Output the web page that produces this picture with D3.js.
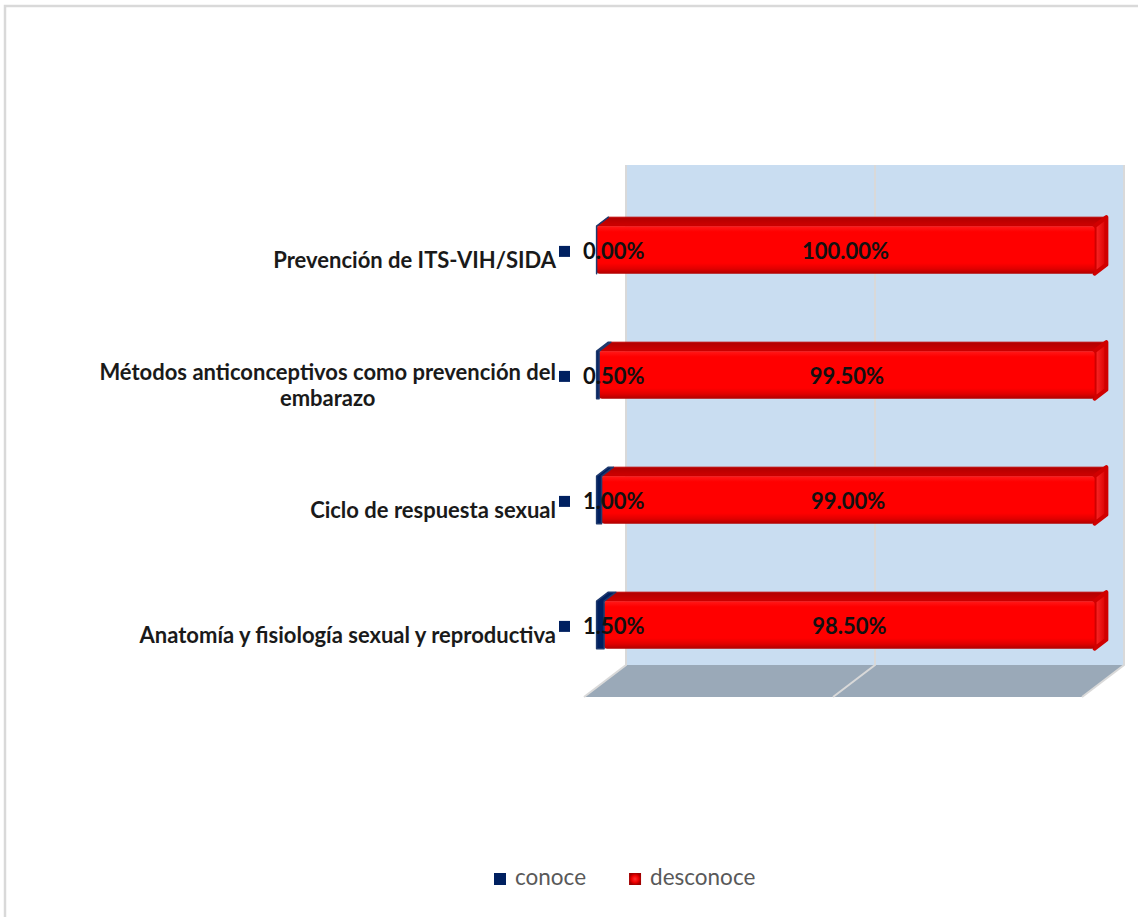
<!DOCTYPE html>
<html><head><meta charset="utf-8">
<script src="https://cdn.jsdelivr.net/npm/d3@7"></script>
<style>html,body{margin:0;padding:0;background:#fff;overflow:hidden}</style>
</head><body>
<svg id="c" width="1138" height="917"></svg>
<script>
const categories = ["Prevención de ITS-VIH/SIDA", "Métodos anticonceptivos como prevención del embarazo", "Ciclo de respuesta sexual", "Anatomía y fisiología sexual y reproductiva"];
const categoryLines = [["Prevención de ITS-VIH/SIDA"], ["Métodos anticonceptivos como prevención del", "embarazo"], ["Ciclo de respuesta sexual"], ["Anatomía y fisiología sexual y reproductiva"]];
const conoce = [0.00, 0.50, 1.00, 1.50];
const desconoce = [100.00, 99.50, 99.00, 98.50];
const seriesNames = ["conoce", "desconoce"];
const gridTicks = [0, 50, 100];

const svg = d3.select("#c");
const W = 1138, H = 917;
const FONT = "Lato, 'Open Sans', sans-serif";

// 3D projection: front plane scales + depth offset
const depthX = 42, depthY = 32;
const x = d3.scaleLinear().domain([0, 100]).range([584, 1082]);
const y = d3.scaleBand().domain(categories).range([197, 697]).paddingInner(0.62).paddingOuter(0.31);
const P = (v, yy, z) => [x(v) + z * depthX, yy - z * depthY];
const zFront = 0.30, zBack = 0.58;

const defs = svg.append("defs");
const gFront = defs.append("linearGradient").attr("id", "redFront").attr("x1", 0).attr("y1", 0).attr("x2", 0).attr("y2", 1);
[[0, "#ff1a1a"], [0.12, "#ff0000"], [0.78, "#ff0000"], [0.9, "#e00000"], [1, "#b00000"]].forEach(s => gFront.append("stop").attr("offset", s[0]).attr("stop-color", s[1]));
const gTop = defs.append("linearGradient").attr("id", "redTop").attr("x1", 0).attr("y1", 0).attr("x2", 0).attr("y2", 1);
[[0, "#b00000"], [1, "#d00000"]].forEach(s => gTop.append("stop").attr("offset", s[0]).attr("stop-color", s[1]));
const gSide = defs.append("linearGradient").attr("id", "redSide").attr("x1", 0).attr("y1", 0).attr("x2", 1).attr("y2", 0);
[[0, "#ff2a2a"], [1, "#d80000"]].forEach(s => gSide.append("stop").attr("offset", s[0]).attr("stop-color", s[1]));
const gLeg = defs.append("radialGradient").attr("id", "redLeg");
[[0, "#ff3030"], [0.6, "#ee0000"], [1, "#a00000"]].forEach(s => gLeg.append("stop").attr("offset", s[0]).attr("stop-color", s[1]));

// chart border
svg.append("path").attr("d", `M5,${H + 5} L5,6 L${W + 5},6`).attr("fill", "none").attr("stroke", "#d9d9d9").attr("stroke-width", 2.5);

// back wall
const yTopPlane = y.range()[0], yBotPlane = y.range()[1];
const wall = [P(0, yTopPlane, 1), P(100, yTopPlane, 1), P(100, yBotPlane, 1), P(0, yBotPlane, 1)];
svg.append("polygon").attr("points", wall.map(p => p.join(",")).join(" ")).attr("fill", "#c9ddf1");
// floor
const floor = [P(0, yBotPlane, 0), P(100, yBotPlane, 0), P(100, yBotPlane, 1), P(0, yBotPlane, 1)];
svg.append("polygon").attr("points", floor.map(p => p.join(",")).join(" ")).attr("fill", "#9aa9b8");
// gridlines
gridTicks.forEach(t => {
  const pts = [P(t, yTopPlane, 1), P(t, yBotPlane, 1), P(t, yBotPlane, 0)];
  svg.append("polyline").attr("points", pts.map(p => p.join(",")).join(" ")).attr("fill", "none").attr("stroke", "#d9d9d9").attr("stroke-width", 2);
});

// bars
const poly = pts => pts.map(p => p.join(",")).join(" ");
categories.forEach((c, i) => {
  const y0 = y(c), y1 = y(c) + y.bandwidth();
  const g = svg.append("g");
  const cv = conoce[i], dv = desconoce[i];
  const xs = cv, xe = cv + dv;
  // desconoce segment (red)
  g.append("polygon").attr("points", poly([P(xs, y0, zFront), P(xe, y0, zFront), P(xe, y0, zBack), P(xs, y0, zBack)]))
    .attr("fill", "url(#redTop)").attr("stroke", "#c00000").attr("stroke-width", 1).attr("stroke-linejoin", "round");
  g.append("polygon").attr("points", poly([P(xe, y0, zFront), P(xe, y0, zBack), P(xe, y1, zBack), P(xe, y1, zFront)]))
    .attr("fill", "url(#redSide)").attr("stroke", "#d00000").attr("stroke-width", 4).attr("stroke-linejoin", "round");
  const f0 = P(xs, y0, zFront), f1 = P(xe, y1, zFront);
  g.append("rect").attr("x", f0[0]).attr("y", f0[1]).attr("width", f1[0] - f0[0]).attr("height", f1[1] - f0[1])
    .attr("rx", 3).attr("fill", "url(#redFront)");
  // conoce segment (navy)
  g.append("polygon").attr("points", poly([P(0, y1, zFront), P(0, y0, zFront), P(0, y0, zBack), P(cv, y0, zBack), P(cv, y0, zFront), P(cv, y1, zFront)]))
    .attr("fill", "#002060").attr("stroke", "#1f3a6e").attr("stroke-width", 1.5).attr("stroke-linejoin", "round");
  // labels
  const fc = (f0[1] + f1[1]) / 2 + 3;
  g.append("rect").attr("x", x(0) - 25).attr("y", fc - 7).attr("width", 11).attr("height", 11).attr("fill", "#002060");
  g.append("text").attr("x", x(0) - 1).attr("y", fc).attr("dominant-baseline", "middle")
    .attr("font-family", FONT).attr("font-weight", 700).attr("font-size", 22).attr("fill", "#111")
    .text(d3.format(".2f")(cv) + "%");
  g.append("text").attr("x", (P(xs, y0, zFront)[0] + P(xe, y0, zFront)[0]) / 2).attr("y", fc).attr("text-anchor", "middle").attr("dominant-baseline", "middle")
    .attr("font-family", FONT).attr("font-weight", 700).attr("font-size", 22).attr("fill", "#111")
    .text(d3.format(".2f")(dv) + "%");
  // category label
  const cy = y(c) + y.bandwidth() / 2;
  const lines = categoryLines[i];
  const lh = 26;
  const tg = svg.append("g");
  const texts = lines.map((l, k) => tg.append("text").attr("font-family", FONT).attr("font-weight", 700).attr("font-size", 22)
    .attr("fill", "#1a1a1a").attr("dominant-baseline", "middle").attr("text-anchor", "middle")
    .attr("y", cy + (k - (lines.length - 1) / 2) * lh + 3).text(l));
  const maxW = d3.max(texts, t => t.node().getComputedTextLength());
  const right = x(0) - 28;
  texts.forEach(t => t.attr("x", right - maxW / 2));
});

// legend
const leg = svg.append("g");
let lx = 494;
const ly = 879;
seriesNames.forEach((s, k) => {
  leg.append("rect").attr("x", lx).attr("y", ly - 6).attr("width", 12).attr("height", 12)
    .attr("fill", k === 0 ? "#002060" : "url(#redLeg)");
  const t = leg.append("text").attr("x", lx + 21).attr("y", ly).attr("dominant-baseline", "middle")
    .attr("font-family", FONT).attr("font-size", 22.5).attr("fill", "#595959").text(s);
  lx += 21 + t.node().getComputedTextLength() + 43;
});
</script>
</body></html>
